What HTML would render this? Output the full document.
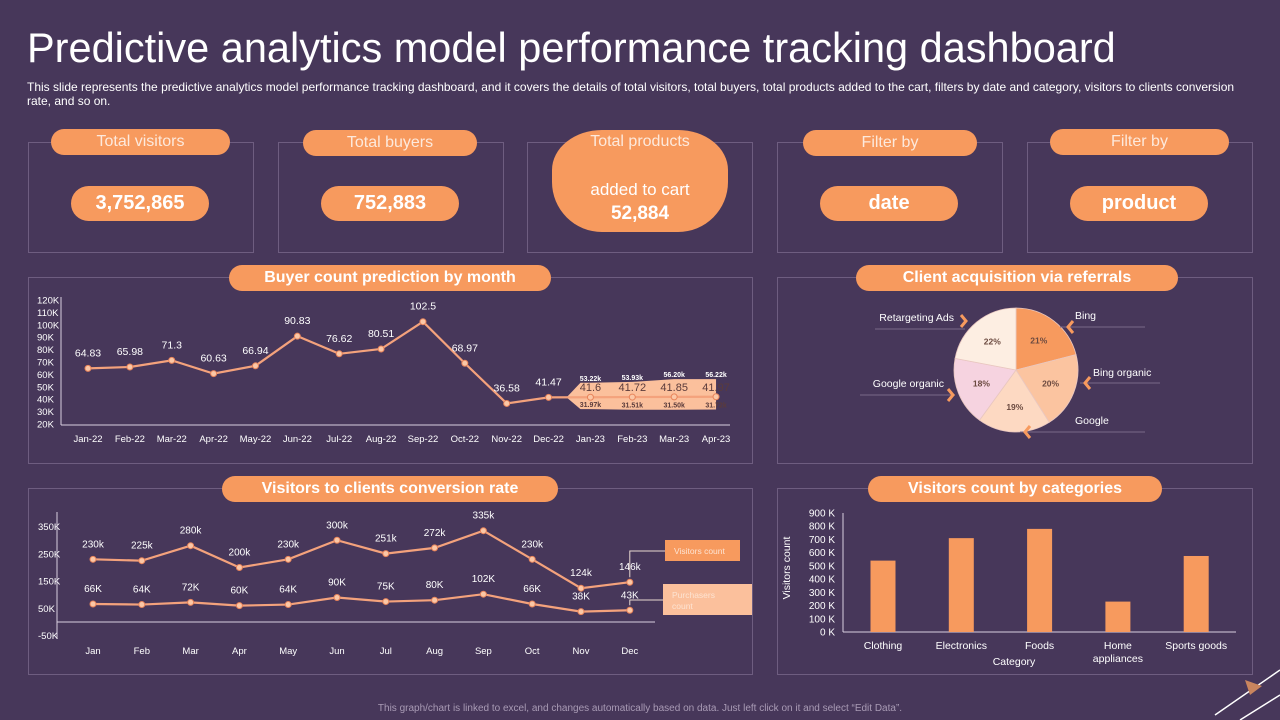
<!DOCTYPE html>
<html><head><meta charset="utf-8">
<style>
*{margin:0;padding:0;box-sizing:border-box}
body{width:1280px;height:720px;background:#47375a;font-family:"Liberation Sans",sans-serif;color:#fff;position:relative;overflow:hidden}
.abs{position:absolute}
.box{position:absolute;border:1px solid #6e5d80}
.pill{position:absolute;background:#f79a5e;border-radius:14px;text-align:center;color:#fde9dc}
.hdr{font-size:16px;line-height:26px;height:26px}
.hb{font-weight:bold;color:#fff;font-size:16px;line-height:26px;height:26px}
.val{font-weight:bold;font-size:20px;line-height:35px;height:35px;border-radius:18px;color:#fff}
svg text{font-family:"Liberation Sans",sans-serif}
</style></head><body>
<div class="abs" style="left:27px;top:24px;font-size:41.5px;color:#fff;white-space:nowrap">Predictive analytics model performance tracking dashboard</div>
<div class="abs" style="left:27px;top:80px;width:1230px;font-size:12px;line-height:14px;color:#fff">This slide represents the predictive analytics model performance tracking dashboard, and it covers the details of total visitors, total buyers, total products added to the cart, filters by date and category, visitors to clients conversion rate, and so on.</div>

<div class="box" style="left:28px;top:142px;width:226px;height:111px"></div>
<div class="pill hdr" style="left:51px;top:129px;width:179px">Total visitors</div>
<div class="pill val" style="left:71px;top:186px;width:138px">3,752,865</div>

<div class="box" style="left:278px;top:142px;width:226px;height:111px"></div>
<div class="pill hdr" style="left:303px;top:130px;width:174px">Total buyers</div>
<div class="pill val" style="left:321px;top:186px;width:138px">752,883</div>

<div class="box" style="left:527px;top:142px;width:226px;height:111px"></div>
<div class="pill" style="left:552px;top:130px;width:176px;height:102px;border-radius:50px 50px 50px 50px/40px 40px 50px 50px">
<div style="font-size:16px;margin-top:3px">Total products</div>
<div style="font-size:17px;margin-top:29px;color:#fff">added to cart</div>
<div style="font-size:19px;font-weight:bold;color:#fff;margin-top:3px">52,884</div></div>

<div class="box" style="left:777px;top:142px;width:226px;height:111px"></div>
<div class="pill hdr" style="left:803px;top:130px;width:174px">Filter by</div>
<div class="pill val" style="left:820px;top:186px;width:138px">date</div>

<div class="box" style="left:1027px;top:142px;width:226px;height:111px"></div>
<div class="pill hdr" style="left:1050px;top:129px;width:179px">Filter by</div>
<div class="pill val" style="left:1070px;top:186px;width:138px">product</div>

<div class="box" style="left:28px;top:277px;width:725px;height:187px"></div>
<div class="pill hb" style="left:229px;top:265px;width:322px">Buyer count prediction by month</div>
<div class="box" style="left:777px;top:277px;width:476px;height:187px"></div>
<div class="pill hb" style="left:856px;top:265px;width:322px">Client acquisition via referrals</div>
<div class="box" style="left:28px;top:488px;width:725px;height:187px"></div>
<div class="pill hb" style="left:222px;top:476px;width:336px">Visitors to clients conversion rate</div>
<div class="box" style="left:777px;top:488px;width:476px;height:187px"></div>
<div class="pill hb" style="left:868px;top:476px;width:294px">Visitors count by categories</div>

<svg class="abs" style="left:0;top:0" width="1280" height="720" id="svg"></svg>
<div class="abs" style="left:0;width:1280px;top:703px;text-align:center;font-size:10px;color:#a99bb5">This graph/chart is linked to excel, and changes automatically based on data. Just left click on it and select “Edit Data”.</div>

<script>
const buyerMonths=["Jan-22","Feb-22","Mar-22","Apr-22","May-22","Jun-22","Jul-22","Aug-22","Sep-22","Oct-22","Nov-22","Dec-22","Jan-23","Feb-23","Mar-23","Apr-23"];
const buyerValues=[64.83,65.98,71.3,60.63,66.94,90.83,76.62,80.51,102.5,68.97,36.58,41.47,41.6,41.72,41.85,41.97];
const forecastUpper=[53.22,53.93,56.20,56.22];
const forecastLower=[31.97,31.51,31.50,31.72];
const buyerTicks=[20,30,40,50,60,70,80,90,100,110,120];

const convMonths=["Jan","Feb","Mar","Apr","May","Jun","Jul","Aug","Sep","Oct","Nov","Dec"];
const visitors=[230,225,280,200,230,300,251,272,335,230,124,146];
const purchasers=[66,64,72,60,64,90,75,80,102,66,38,43];
const convTicks=[-50,50,150,250,350];

const pieLabels=["Bing","Bing organic","Google","Google organic","Retargeting Ads"];
const pieValues=[21,20,19,18,22];
const pieColors=["#f79a5e","#fbc4a0","#fdd9c2","#f6d3e0","#fdeee2"];

const categories=["Clothing","Electronics","Foods","Home appliances","Sports goods"];
const categoryValues=[540,710,780,230,575];
const catTicks=[0,100,200,300,400,500,600,700,800,900];

const svg=document.getElementById('svg');
const NS='http://www.w3.org/2000/svg';
function mk(tag,attrs,parent){const e=document.createElementNS(NS,tag);for(const k in attrs)e.setAttribute(k,attrs[k]);(parent||svg).appendChild(e);return e;}
function txt(x,y,s,attrs,parent){const e=mk('text',Object.assign({x:x,y:y,fill:'#fff','font-size':10},attrs),parent);e.textContent=s;return e;}
const OR='#f4a27c';

// Buyer chart
const g1=mk('g',{});
const bx=i=>88+i*41.87, by=v=>424-(v-20)*1.24;
buyerTicks.forEach(t=>{const e=txt(37,by(t)+3.5,t+'K',{'font-size':9.5},g1);});
mk('line',{x1:61,y1:297,x2:61,y2:425,stroke:'#d8cfe0','stroke-width':1},g1);
mk('line',{x1:61,y1:425,x2:730,y2:425,stroke:'#d8cfe0','stroke-width':1},g1);
buyerMonths.forEach((m,i)=>{const e=txt(bx(i),442,m,{'text-anchor':'middle','font-size':9.5},g1);});
const fi0=11, fx=forecastUpper.map((v,i)=>bx(12+i));
let bp=`M${bx(fi0)+18},${by(buyerValues[fi0])} L${fx[0]-10},${by(forecastUpper[0])}`;
forecastUpper.forEach((v,i)=>bp+=` L${fx[i]},${by(v)}`);
for(let i=forecastLower.length-1;i>=0;i--)bp+=` L${fx[i]},${by(forecastLower[i])}`;
bp+=` L${fx[0]-10},${by(forecastLower[0])} Z`;
const band=mk('path',{d:bp,fill:'#fbc09c'},g1);
const bl=mk('polyline',{points:buyerValues.map((v,i)=>bx(i)+','+by(v)).join(' '),fill:'none',stroke:OR,'stroke-width':2.2},g1);

buyerValues.forEach((v,i)=>{const c=mk('circle',{cx:bx(i),cy:by(v),r:3,fill:'#fbc7a6',stroke:'#e8845a'},g1);
const f=i>=12;const e=txt(bx(i),by(v)-(f?6:12),String(v),{'text-anchor':'middle','font-size':f?11:10.5,fill:f?'#5b3b3b':'#fff'},g1);});
forecastUpper.forEach((v,i)=>{const e=txt(fx[i],by(v)-2,v.toFixed(2)+'k',{'text-anchor':'middle','font-size':7,'font-weight':'bold'},g1);});
forecastLower.forEach((v,i)=>{const e=txt(fx[i],by(v)-2,v.toFixed(2)+'k',{'text-anchor':'middle','font-size':7,'font-weight':'bold',fill:'#5b3b3b'},g1);});

// Pie
const g2=mk('g',{});
const cx=1016,cy=370,R=62;const tot=pieValues.reduce((a,b)=>a+b,0);let a0=0;
const lblPos=[[1075,319,'start',1060,327,1145],[1093,376,'start',1080,383,1160],[1075,424,'start',1020,432,1145],[944,387,'end',860,395,955],[954,321,'end',875,329,965]];
pieValues.forEach((v,i)=>{const a1=a0+v/tot*2*Math.PI;const p=a=>[cx+R*Math.sin(a),cy-R*Math.cos(a)];const [x0,y0]=p(a0),[x1,y1]=p(a1);
const s=mk('path',{d:`M${cx},${cy} L${x0},${y0} A${R},${R} 0 ${a1-a0>Math.PI?1:0} 1 ${x1},${y1} Z`,fill:pieColors[i],stroke:'#e9c7c0','stroke-width':0.8},g2);

const am=(a0+a1)/2;const e=txt(cx+R*0.6*Math.sin(am),cy-R*0.6*Math.cos(am)+3,v+'%',{'text-anchor':'middle','font-size':8.5,'font-weight':'bold',fill:'#6b4a40'},g2);

const L=lblPos[i];const t=txt(L[0],L[1],pieLabels[i],{'text-anchor':L[2],'font-size':10.5},g2);
mk('line',{x1:L[3],y1:L[4],x2:L[5],y2:L[4],stroke:'#7a6888'},g2);
a0=a1;});
[[966,321,1],[1068,327,-1],[1085,383,-1],[1025,432,-1],[953,395,1]].forEach(c=>{mk('path',{d:`M${c[0]-5*c[2]},${c[1]-6} L${c[0]},${c[1]} L${c[0]-5*c[2]},${c[1]+6}`,fill:'none',stroke:'#f79a5e','stroke-width':3},g2);});

// Conversion chart
const g3=mk('g',{});
const cxp=i=>93+i*48.8, cyp=v=>622-v*0.2725;
convTicks.forEach(t=>{const e=txt(38,cyp(t)+3.5,t+'K',{'font-size':9.5},g3);});
mk('line',{x1:57,y1:512,x2:57,y2:638,stroke:'#d8cfe0'},g3);
mk('line',{x1:57,y1:622,x2:655,y2:622,stroke:'#d8cfe0'},g3);
convMonths.forEach((m,i)=>{const e=txt(cxp(i),654,m,{'text-anchor':'middle','font-size':9.5},g3);});
[[visitors,'visitors-line','k'],[purchasers,'purchasers-line','K']].forEach(([arr,nm,suf])=>{
const l=mk('polyline',{points:arr.map((v,i)=>cxp(i)+','+cyp(v)).join(' '),fill:'none',stroke:OR,'stroke-width':2.2},g3);
arr.forEach((v,i)=>{const c=mk('circle',{cx:cxp(i),cy:cyp(v),r:3,fill:'#fbc7a6',stroke:'#e8845a'},g3);
const e=txt(cxp(i),cyp(v)-12,v+suf,{'text-anchor':'middle','font-size':10},g3);});});
const n=visitors.length-1;
mk('polyline',{points:`${cxp(n)},${cyp(visitors[n])-5} ${cxp(n)},551 665,551`,fill:'none',stroke:'#e8d8d0'},g3);
mk('polyline',{points:`${cxp(n)},${cyp(purchasers[n])-5} ${cxp(n)},600 663,600`,fill:'none',stroke:'#e8d8d0'},g3);
const lg1=mk('rect',{x:665,y:540,width:75,height:21,fill:'#f79a5e'},g3);
txt(674,554,'Visitors count',{'font-size':8.5,fill:'#fde3d2'},g3);
const lg2=mk('rect',{x:663,y:584,width:89,height:31,fill:'#fbc09c'},g3);
txt(672,598,'Purchasers',{'font-size':8.5,fill:'#fde3d2'},g3);txt(672,609,'count',{'font-size':8.5,fill:'#fde3d2'},g3);

// Bar chart
const g4=mk('g',{});
const yb=v=>632-v*0.1322, xb=i=>883+i*78.3;
catTicks.forEach(t=>{const e=txt(835,yb(t)+3.5,t+' K',{'text-anchor':'end','font-size':10},g4);});
mk('line',{x1:843,y1:513,x2:843,y2:632,stroke:'#d8cfe0'},g4);
mk('line',{x1:843,y1:632,x2:1236,y2:632,stroke:'#d8cfe0'},g4);
categoryValues.forEach((v,i)=>{const r=mk('rect',{x:xb(i)-12.5,y:yb(v),width:25,height:632-yb(v),fill:'#f79a5e'},g4);
const w=categories[i].split(' ');
if(categories[i]==='Sports goods'){txt(xb(i),649,categories[i],{'text-anchor':'middle','font-size':10.5},g4);}
else w.forEach((s,k)=>txt(xb(i),649+k*13,s,{'text-anchor':'middle','font-size':10.5},g4));});
txt(1014,665,'Category',{'text-anchor':'middle','font-size':10.5},g4);
txt(0,0,'Visitors count',{'text-anchor':'middle','font-size':10.5,transform:'translate(790,568) rotate(-90)'},g4);

mk('path',{d:'M1215,715 L1280,670 M1240,720 L1280,695',stroke:'#fff','stroke-width':1.5,fill:'none'});
mk('path',{d:'M1245,680 L1262,686 L1250,695 Z',fill:'#c9855e'});
</script>
</body></html>
